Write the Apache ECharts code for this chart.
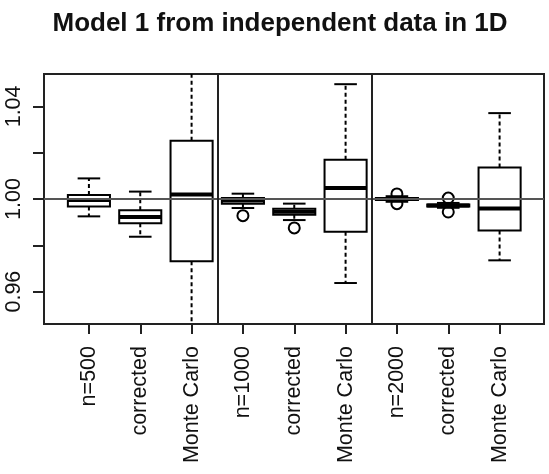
<!DOCTYPE html>
<html>
<head>
<meta charset="utf-8">
<script src="https://cdn.jsdelivr.net/npm/echarts@6/dist/echarts.min.js"></script>
<style>
  html, body { margin: 0; padding: 0; background: #fff; }
  #main { width: 549px; height: 474px; }
</style>
</head>
<body>
<div id="main"></div>
<script>
// box positions and labels
const positions = [1, 2, 3, 4, 5, 6, 7, 8, 9];
const categories = ['n=500', 'corrected', 'Monte Carlo', 'n=1000', 'corrected', 'Monte Carlo', 'n=2000', 'corrected', 'Monte Carlo'];

// five number summaries
const whiskerLow  = [0.9925, 0.9837, 0.932,  0.9961, 0.9909, 0.9637, 0.9988, 0.9962, 0.9735];
const lowerQ      = [0.9968, 0.9895, 0.9731, 0.9979, 0.9932, 0.9859, 0.9996, 0.9968, 0.9864];
const medians     = [0.9996, 0.9922, 1.0019, 0.9994, 0.9945, 1.0047, 1.0000, 0.9972, 0.9959];
const upperQ      = [1.0017, 0.9951, 1.0252, 1.0004, 0.9958, 1.0170, 1.0004, 0.9976, 1.0136];
const whiskerHigh = [1.0089, 1.0032, 1.068,  1.0023, 0.9980, 1.0496, 1.0012, 0.9983, 1.0371];

// outliers as [position, value]
const outliers = [[4, 0.9928], [5, 0.9875], [7, 1.0022], [7, 0.9980], [8, 1.0004], [8, 0.9944]];

const yTicks = [0.96, 0.98, 1.00, 1.02, 1.04];
const yLabels = [0.96, 1.00, 1.04];
const refLine = 1.0;
const separators = [3.5, 6.5];

let boxData = [];
for (let i = 0; i < positions.length; i++) {
    boxData.push([positions[i], whiskerLow[i], lowerQ[i], medians[i], upperQ[i], whiskerHigh[i]]);
}

const font = 'Liberation Sans, Arial, sans-serif';
const halfBox = 0.41;
const halfStaple = 0.22;

function renderBox(params, api) {
    let x = api.value(0);
    let lo = api.value(1), q1 = api.value(2), md = api.value(3), q3 = api.value(4), hi = api.value(5);
    let pL = api.coord([x - halfBox, q3]);
    let pR = api.coord([x + halfBox, q1]);
    let c = function (v) { return api.coord([x, v]); };
    let lineStyle = { stroke: '#000', lineWidth: 2, fill: null };
    let dashStyle = { stroke: '#000', lineWidth: 2, lineDash: [4, 3], fill: null };
    let sL = api.coord([x - halfStaple, 0])[0];
    let sR = api.coord([x + halfStaple, 0])[0];
    return {
        type: 'group',
        children: [
            { type: 'line', shape: { x1: c(q3)[0], y1: c(q3)[1], x2: c(hi)[0], y2: c(hi)[1] }, style: dashStyle },
            { type: 'line', shape: { x1: c(q1)[0], y1: c(q1)[1], x2: c(lo)[0], y2: c(lo)[1] }, style: dashStyle },
            { type: 'line', shape: { x1: sL, y1: c(hi)[1], x2: sR, y2: c(hi)[1] }, style: lineStyle },
            { type: 'line', shape: { x1: sL, y1: c(lo)[1], x2: sR, y2: c(lo)[1] }, style: lineStyle },
            { type: 'rect', shape: { x: pL[0], y: pL[1], width: pR[0] - pL[0], height: pR[1] - pL[1] },
              style: { stroke: '#000', lineWidth: 2, fill: '#fff' } },
            { type: 'line', shape: { x1: pL[0], y1: c(md)[1], x2: pR[0], y2: c(md)[1] },
              style: { stroke: '#000', lineWidth: 4 } }
        ]
    };
}

let option = {
    animation: false,
    backgroundColor: '#fff',
    title: {
        text: 'Model 1 from independent data in 1D',
        left: 280,
        textAlign: 'center',
        top: 11,
        padding: 0,
        textStyle: { fontFamily: font, fontSize: 26, fontWeight: 'bold', color: '#111' }
    },
    grid: {
        left: 44, right: 5, top: 74, bottom: 150,
        show: true, borderColor: '#222', borderWidth: 2, backgroundColor: 'transparent'
    },
    xAxis: {
        type: 'value',
        min: 0.125,
        max: 9.865,
        splitLine: { show: false },
        axisLine: { show: false },
        axisTick: { show: true, length: 10, customValues: positions, lineStyle: { color: '#222', width: 2 } },
        axisLabel: {
            customValues: positions,
            rotate: 90,
            margin: 22,
            fontFamily: font,
            fontSize: 21.5,
            color: '#111',
            formatter: function (v) { return categories[Math.round(v) - 1]; }
        }
    },
    yAxis: {
        type: 'value',
        min: 0.946,
        max: 1.054,
        splitLine: { show: false },
        axisLine: { show: false },
        axisTick: { show: true, length: 11, customValues: yTicks, lineStyle: { color: '#222', width: 2 } },
        axisLabel: {
            customValues: yLabels,
            rotate: 90,
            margin: 19,
            fontFamily: font,
            fontSize: 21.5,
            color: '#111',
            formatter: function (v) { return v.toFixed(2); }
        }
    },
    series: [
        {
            type: 'custom',
            clip: true,
            renderItem: renderBox,
            data: boxData,
            encode: { x: 0, y: [1, 2, 3, 4, 5] },
            z: 2
        },
        {
            type: 'scatter',
            data: outliers,
            symbol: 'circle',
            symbolSize: 11,
            itemStyle: { color: 'transparent', borderColor: '#000', borderWidth: 2, opacity: 1 },
            z: 3,
            markLine: {
                silent: true,
                symbol: 'none',
                label: { show: false },
                data: [
                    { yAxis: refLine, lineStyle: { color: '#555', width: 2, type: 'solid' } },
                    { xAxis: separators[0], lineStyle: { color: '#222', width: 2, type: 'solid' } },
                    { xAxis: separators[1], lineStyle: { color: '#222', width: 2, type: 'solid' } }
                ]
            }
        }
    ]
};

let chart = echarts.init(document.getElementById('main'));
chart.setOption(option);
</script>
</body>
</html>
